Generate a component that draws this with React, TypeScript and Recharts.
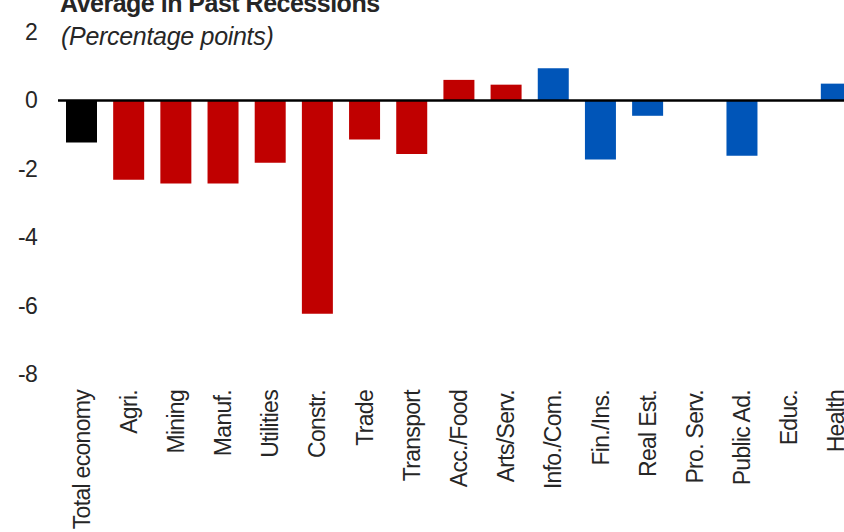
import React from 'react';
import { BarChart, Bar, XAxis, YAxis, ReferenceLine, Cell } from 'recharts';

const categories = [
  'Total economy', 'Agri.', 'Mining', 'Manuf.', 'Utilities', 'Constr.', 'Trade', 'Transport',
  'Acc./Food', 'Arts/Serv.', 'Info./Com.', 'Fin./Ins.', 'Real Est.', 'Pro. Serv.', 'Public Ad.',
  'Educ.', 'Health',
];
const values = [
  -1.23, -2.32, -2.43, -2.43, -1.82, -6.24, -1.14, -1.57,
  0.6, 0.46, 0.94, -1.73, -0.45, 0, -1.62,
  0, 0.49,
];
// 0 = total, 1 = goods/contact sectors (red), 2 = other services (blue)
const groups = [0, 1, 1, 1, 1, 1, 1, 1, 1, 1, 2, 2, 2, 2, 2, 2, 2];
const yTicks = [2, 0, -2, -4, -6, -8];

const groupColors = ['#000000', '#c00000', '#0055b8'];
const textColor = '#262626';
const font = '"Liberation Sans", Arial, sans-serif';

const data = categories.map((name, i) => ({ name, value: values[i], group: groups[i] }));

const XTick = (props: any) => {
  const { x, y, payload } = props;
  return (
    <text
      x={x}
      y={y + 8}
      transform={`rotate(-90, ${x}, ${y + 8})`}
      textAnchor="end"
      dominantBaseline="central"
      fontSize={23}
      letterSpacing={-0.7}
      fontFamily={font}
      fill={textColor}
    >
      {payload.value}
    </text>
  );
};

const YTick = (props: any) => {
  const { y, payload } = props;
  return (
    <text
      x={37}
      y={y}
      textAnchor="end"
      dominantBaseline="central"
      fontSize={23}
      letterSpacing={-0.7}
      fontFamily={font}
      fill={textColor}
    >
      {payload.value}
    </text>
  );
};

export default function App() {
  return (
    <div
      style={{
        position: 'fixed',
        top: 0,
        left: 0,
        width: 844,
        height: 532,
        overflow: 'hidden',
        background: '#fff',
        fontFamily: font,
        color: textColor,
      }}
    >
      <div
        style={{
          position: 'absolute',
          left: 60,
          top: -11,
          fontSize: 25,
          fontWeight: 'bold',
          letterSpacing: -0.5,
          whiteSpace: 'nowrap',
          lineHeight: '28px',
        }}
      >
        Average in Past Recessions
      </div>
      <div
        style={{
          position: 'absolute',
          left: 61,
          top: 22,
          fontSize: 25,
          fontStyle: 'italic',
          letterSpacing: -0.3,
          whiteSpace: 'nowrap',
          lineHeight: '28px',
        }}
      >
        (Percentage points)
      </div>
      <BarChart
        width={880}
        height={532}
        data={data}
        margin={{ top: 32, right: 20, bottom: 0, left: 0 }}
        barSize={31}
      >
        <XAxis
          dataKey="name"
          interval={0}
          axisLine={false}
          tickLine={false}
          tick={<XTick />}
          height={158}
        />
        <YAxis
          domain={[-8, 2]}
          ticks={yTicks}
          axisLine={false}
          tickLine={false}
          tick={<YTick />}
          width={58}
          allowDataOverflow
        />
        <Bar dataKey="value" isAnimationActive={false}>
          {data.map((d, i) => (
            <Cell key={`c-${i}`} fill={groupColors[d.group]} />
          ))}
        </Bar>
        <ReferenceLine y={0} stroke="#000" strokeWidth={2.5} />
      </BarChart>
    </div>
  );
}
